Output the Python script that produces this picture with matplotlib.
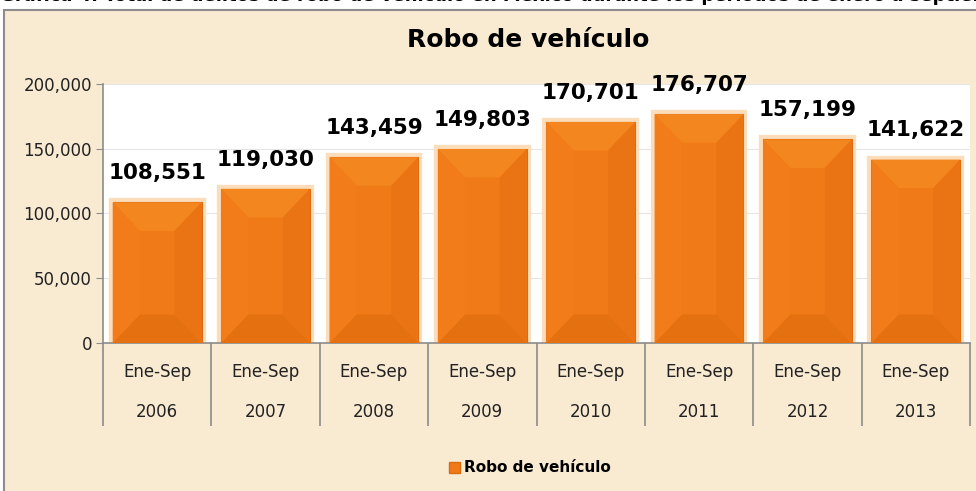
import numpy as np
import matplotlib
matplotlib.use("Agg")
import matplotlib.pyplot as plt
from matplotlib.patches import Rectangle, Polygon, Patch
from matplotlib.ticker import FuncFormatter

# Data
years = ["2006", "2007", "2008", "2009", "2010", "2011", "2012", "2013"]
period = "Ene-Sep"
values = [108551, 119030, 143459, 149803, 170701, 176707, 157199, 141622]
series_name = "Robo de vehículo"

W, H = 976, 491
fig = plt.figure(figsize=(W / 100, H / 100), dpi=100)
fig.patch.set_facecolor("white")

# clipped heading above the chart frame (only its lower edge shows)
fig.text(0.0, 1.0 - 1 / H, "Gráfica 4. Total de delitos de robo de vehículo en México durante los periodos de enero a septiembre",
         fontsize=13, fontweight="bold", ha="left", va="baseline", color="black", zorder=-2)

# chart frame with parchment colour
frame = Rectangle((4 / W, -0.05), 1.1, 1 - 10 / H + 0.05, transform=fig.transFigure,
                  facecolor="#F9EAD2", edgecolor="#8C8C8C", linewidth=1.5, zorder=-1)
fig.patches.append(frame)

ax = fig.add_axes([103 / W, 1 - 343 / H, 867 / W, 259 / H])
ax.set_zorder(1)
ax.set_facecolor("white")
ax.set_xlim(-0.5, len(years) - 0.5)
ax.set_ylim(0, 200000)

x = np.arange(len(years))
bw = 0.82

# glow around bars
ax.bar(x, values, width=bw, color="#FBD3A8", edgecolor="#FCDDBB", linewidth=6, zorder=2)
bars = ax.bar(x, values, width=bw, color="#F07A17", edgecolor="#DB6A10", linewidth=0.8, zorder=3)

# bevel facets
dx = 0.25
dy = 22000
for xi, v in zip(x, values):
    x0, x1 = xi - bw / 2, xi + bw / 2
    facets = [
        ([(x0, v), (x1, v), (x1 - dx, v - dy), (x0 + dx, v - dy)], "#F4861F"),
        ([(x0, 0), (x1, 0), (x1 - dx, dy), (x0 + dx, dy)], "#E4700F"),
        ([(x0, 0), (x0 + dx, dy), (x0 + dx, v - dy), (x0, v)], "#F17C19"),
        ([(x1, 0), (x1 - dx, dy), (x1 - dx, v - dy), (x1, v)], "#EA7413"),
    ]
    for pts, c in facets:
        ax.add_patch(Polygon(pts, closed=True, facecolor=c, edgecolor="none", zorder=4))
    ax.annotate(f"{v:,}", (xi, v), xytext=(0, 21), textcoords="offset points",
                ha="center", va="center", fontsize=15.5, fontweight="bold",
                color="black", zorder=6)

# y axis
ax.set_yticks(np.arange(0, 200001, 50000))
ax.yaxis.set_major_formatter(FuncFormatter(lambda v, p: f"{int(v):,}"))
ax.tick_params(axis="y", length=5, color="#8C8C8C", labelsize=12, labelcolor="#222222", pad=3)
ax.grid(axis="y", color="#E6E6E6", linewidth=0.8, zorder=0)
ax.set_axisbelow(True)

# x axis: category separators and two-level labels
ax.set_xticks(np.arange(-0.5, len(years), 1))
ax.set_xticklabels([])
ax.tick_params(axis="x", length=60, color="#8C8C8C", width=1.2)
trans = ax.get_xaxis_transform()
for xi, yr in zip(x, years):
    ax.text(xi, -29 / 259, period, transform=trans, ha="center", va="center", fontsize=12, color="#222222")
    ax.text(xi, -69 / 259, yr, transform=trans, ha="center", va="center", fontsize=12, color="#222222")

for s in ["top", "right"]:
    ax.spines[s].set_visible(False)
for s in ["left", "bottom"]:
    ax.spines[s].set_color("#8C8C8C")
    ax.spines[s].set_linewidth(1.2)

fig.text(528 / W, 1 - 40 / H, series_name, ha="center", va="center", fontsize=18, fontweight="bold")

fig.legend(handles=[Patch(facecolor="#F07A17", edgecolor="#DB6A10", label=series_name)],
           loc="center", bbox_to_anchor=(530 / W, 1 - 468 / H), frameon=False,
           handlelength=0.7, handleheight=0.7, handletextpad=0.3,
           prop={"weight": "bold", "size": 11})

fig.savefig("out.png", dpi=100)
